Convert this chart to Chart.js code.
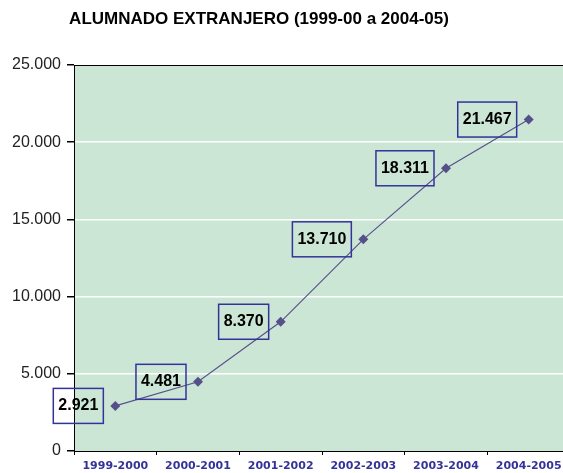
<!DOCTYPE html>
<html>
<head>
<meta charset="utf-8">
<script src="https://cdn.jsdelivr.net/npm/chart.js@4"></script>
<style>
  html, body { margin: 0; padding: 0; background: #fff; overflow: hidden; }
  #wrap { width: 580px; height: 473px; }
</style>
</head>
<body>
<div id="wrap"><canvas id="chart" width="580" height="473"></canvas></div>
<script>
    var titleText = 'ALUMNADO EXTRANJERO (1999-00 a 2004-05)';
    var cursos = ['1999-2000', '2000-2001', '2001-2002', '2002-2003', '2003-2004', '2004-2005'];
    var alumnos = [2921, 4481, 8370, 13710, 18311, 21467];
    var yTicks = [0, 5000, 10000, 15000, 20000, 25000];

    var color = {
        plot: 'rgb(204, 230, 213)',
        line: '#56508a',
        box: '#333399',
        xLabel: '#333399'
    };

    function fmt(v) {
        return v.toString().replace(/\B(?=(\d{3})+(?!\d))/g, '.');
    }

    /**
     * Green plot area
     */
    const plotBg = {
        id: 'plotBg',
        beforeDraw: function(chart) {
            const a = chart.chartArea, ctx = chart.ctx;
            ctx.save();
            ctx.fillStyle = color.plot;
            ctx.fillRect(a.left, a.top, a.right - a.left, a.bottom - a.top);
            ctx.restore();
        }
    };

    /**
     * Title and boxed value labels
     */
    const extras = {
        id: 'extras',
        afterDraw: function(chart) {
            const ctx = chart.ctx;
            ctx.save();
            ctx.fillStyle = '#000';
            ctx.font = 'bold 17px "Liberation Sans", Arial, sans-serif';
            ctx.textAlign = 'center';
            ctx.textBaseline = 'middle';
            ctx.fillText(titleText, 259, 19);

            // top border of plot area
            const a = chart.chartArea;
            ctx.strokeStyle = '#000';
            ctx.lineWidth = 1;
            ctx.beginPath();
            ctx.moveTo(a.left, a.top + 0.5);
            ctx.lineTo(a.right, a.top + 0.5);
            ctx.stroke();

            const meta = chart.getDatasetMeta(0);
            ctx.font = 'bold 16px "Liberation Sans", Arial, sans-serif';
            meta.data.forEach(function(pt, i) {
                const txt = fmt(alumnos[i]);
                const w = ctx.measureText(txt).width + 10;
                const h = 35;
                const right = pt.x - 12;
                const left = right - w;
                ctx.strokeStyle = color.box;
                ctx.lineWidth = 1.5;
                ctx.strokeRect(left, pt.y - h / 2, w, h);
                ctx.fillStyle = '#000';
                ctx.fillText(txt, left + w / 2, pt.y);
            });
            ctx.restore();
        }
    };

    const chart = new Chart(document.getElementById('chart').getContext('2d'), {
        type: 'line',
        data: {
            labels: cursos,
            datasets: [{
                label: 'Alumnado extranjero',
                data: alumnos,
                borderColor: color.line,
                borderWidth: 1.1,
                backgroundColor: color.line,
                pointStyle: 'rectRot',
                pointRadius: 5,
                pointBorderWidth: 0,
                tension: 0,
                fill: false
            }]
        },
        options: {
            responsive: false,
            animation: false,
            layout: { padding: { top: 65, right: 10, left: 0, bottom: 0 } },
            plugins: {
                legend: { display: false },
                title: { display: false },
                tooltip: { enabled: false }
            },
            scales: {
                x: {
                    offset: true,
                    afterFit: function(s) { s.height = 22; },
                    grid: {
                        offset: true,
                        drawOnChartArea: false,
                        drawTicks: true,
                        tickLength: 4,
                        tickColor: '#000'
                    },
                    border: { display: true, color: '#000', width: 1 },
                    ticks: {
                        color: color.xLabel,
                        font: { family: '"DejaVu Sans", Verdana, sans-serif', size: 11, weight: 'bold' },
                        padding: 5,
                        maxRotation: 0,
                        autoSkip: false
                    }
                },
                y: {
                    min: 0,
                    max: 25000,
                    afterFit: function(s) { s.width = 74; },
                    afterBuildTicks: function(s) {
                        s.ticks = yTicks.map(function(v) { return { value: v }; });
                    },
                    grid: {
                        color: function(c) { return (c.tick && (c.tick.value === 0 || c.tick.value === 25000)) ? 'rgba(0,0,0,0)' : '#ffffff'; },
                        lineWidth: 1.5,
                        drawTicks: true,
                        tickLength: 7,
                        tickColor: '#000'
                    },
                    border: { display: true, color: '#000', width: 1 },
                    ticks: {
                        color: '#222',
                        font: { family: '"Liberation Sans", Arial, sans-serif', size: 16 },
                        padding: 6,
                        callback: function(v) { return fmt(v); }
                    }
                }
            }
        },
        plugins: [plotBg, extras]
    });
</script>
</body>
</html>
